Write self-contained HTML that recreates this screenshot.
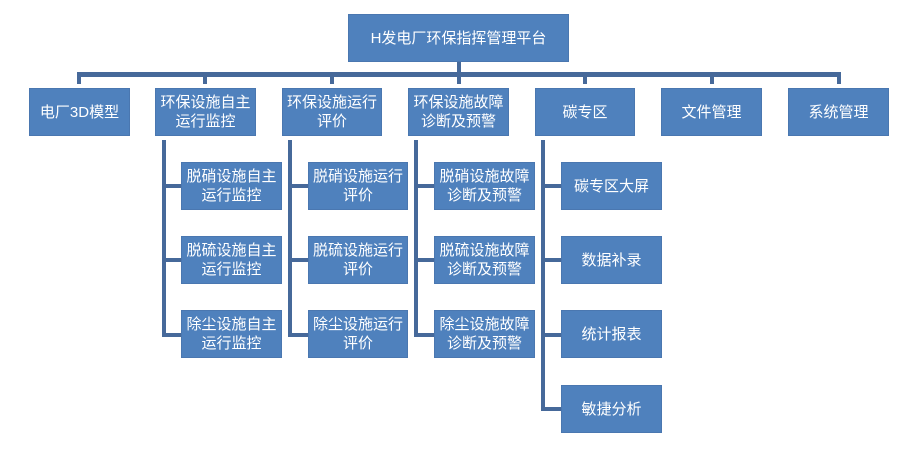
<!DOCTYPE html>
<html><head><meta charset="utf-8"><style>
body{margin:0;background:#fff;width:904px;height:456px;position:relative;overflow:hidden;font-family:"Liberation Sans","Noto Sans CJK SC",sans-serif}
.b{position:absolute;background:#4f81bd;color:#fff;display:flex;align-items:center;justify-content:center;text-align:center;font-size:15px;line-height:19px;box-sizing:border-box;border:1px solid #4a77b0}
.l{position:absolute;background:#46699a}
</style></head><body>
<div class="b" style="left:348px;top:14px;width:221px;height:48px">H发电厂环保指挥管理平台</div>
<div class="l" style="left:457px;top:62px;width:4px;height:22px"></div>
<div class="l" style="left:77px;top:72px;width:764px;height:5px"></div>
<div class="l" style="left:77px;top:72px;width:4px;height:12px"></div>
<div class="l" style="left:203px;top:72px;width:4px;height:12px"></div>
<div class="l" style="left:330px;top:72px;width:4px;height:12px"></div>
<div class="l" style="left:583px;top:72px;width:4px;height:12px"></div>
<div class="l" style="left:710px;top:72px;width:4px;height:12px"></div>
<div class="l" style="left:837px;top:72px;width:4px;height:12px"></div>

<div class="b" style="left:29px;top:88px;width:101px;height:48px">电厂3D模型</div>
<div class="b" style="left:155px;top:88px;width:101px;height:48px">环保设施自主<br>运行监控</div>
<div class="b" style="left:282px;top:88px;width:100px;height:48px">环保设施运行<br>评价</div>
<div class="b" style="left:408px;top:88px;width:101px;height:48px">环保设施故障<br>诊断及预警</div>
<div class="b" style="left:535px;top:88px;width:100px;height:48px">碳专区</div>
<div class="b" style="left:661px;top:88px;width:101px;height:48px">文件管理</div>
<div class="b" style="left:788px;top:88px;width:101px;height:48px">系统管理</div>

<!-- col 2 -->
<div class="l" style="left:162px;top:140px;width:4px;height:197px"></div>
<div class="l" style="left:162px;top:184px;width:19px;height:4px"></div>
<div class="l" style="left:162px;top:258px;width:19px;height:4px"></div>
<div class="l" style="left:162px;top:333px;width:19px;height:4px"></div>
<div class="b" style="left:181px;top:162px;width:101px;height:48px">脱硝设施自主<br>运行监控</div>
<div class="b" style="left:181px;top:236px;width:101px;height:48px">脱硫设施自主<br>运行监控</div>
<div class="b" style="left:181px;top:310px;width:101px;height:48px">除尘设施自主<br>运行监控</div>
<!-- col 3 -->
<div class="l" style="left:288px;top:140px;width:4px;height:197px"></div>
<div class="l" style="left:288px;top:184px;width:20px;height:4px"></div>
<div class="l" style="left:288px;top:258px;width:20px;height:4px"></div>
<div class="l" style="left:288px;top:333px;width:20px;height:4px"></div>
<div class="b" style="left:308px;top:162px;width:100px;height:48px">脱硝设施运行<br>评价</div>
<div class="b" style="left:308px;top:236px;width:100px;height:48px">脱硫设施运行<br>评价</div>
<div class="b" style="left:308px;top:310px;width:100px;height:48px">除尘设施运行<br>评价</div>
<!-- col 4 -->
<div class="l" style="left:414px;top:140px;width:4px;height:197px"></div>
<div class="l" style="left:414px;top:184px;width:20px;height:4px"></div>
<div class="l" style="left:414px;top:258px;width:20px;height:4px"></div>
<div class="l" style="left:414px;top:333px;width:20px;height:4px"></div>
<div class="b" style="left:434px;top:162px;width:101px;height:48px">脱硝设施故障<br>诊断及预警</div>
<div class="b" style="left:434px;top:236px;width:101px;height:48px">脱硫设施故障<br>诊断及预警</div>
<div class="b" style="left:434px;top:310px;width:101px;height:48px">除尘设施故障<br>诊断及预警</div>
<!-- col 5 -->
<div class="l" style="left:541px;top:140px;width:4px;height:271px"></div>
<div class="l" style="left:541px;top:184px;width:20px;height:4px"></div>
<div class="l" style="left:541px;top:258px;width:20px;height:4px"></div>
<div class="l" style="left:541px;top:333px;width:20px;height:4px"></div>
<div class="l" style="left:541px;top:407px;width:20px;height:4px"></div>
<div class="b" style="left:561px;top:162px;width:101px;height:48px">碳专区大屏</div>
<div class="b" style="left:561px;top:236px;width:101px;height:48px">数据补录</div>
<div class="b" style="left:561px;top:310px;width:101px;height:48px">统计报表</div>
<div class="b" style="left:561px;top:385px;width:101px;height:48px">敏捷分析</div>
</body></html>
